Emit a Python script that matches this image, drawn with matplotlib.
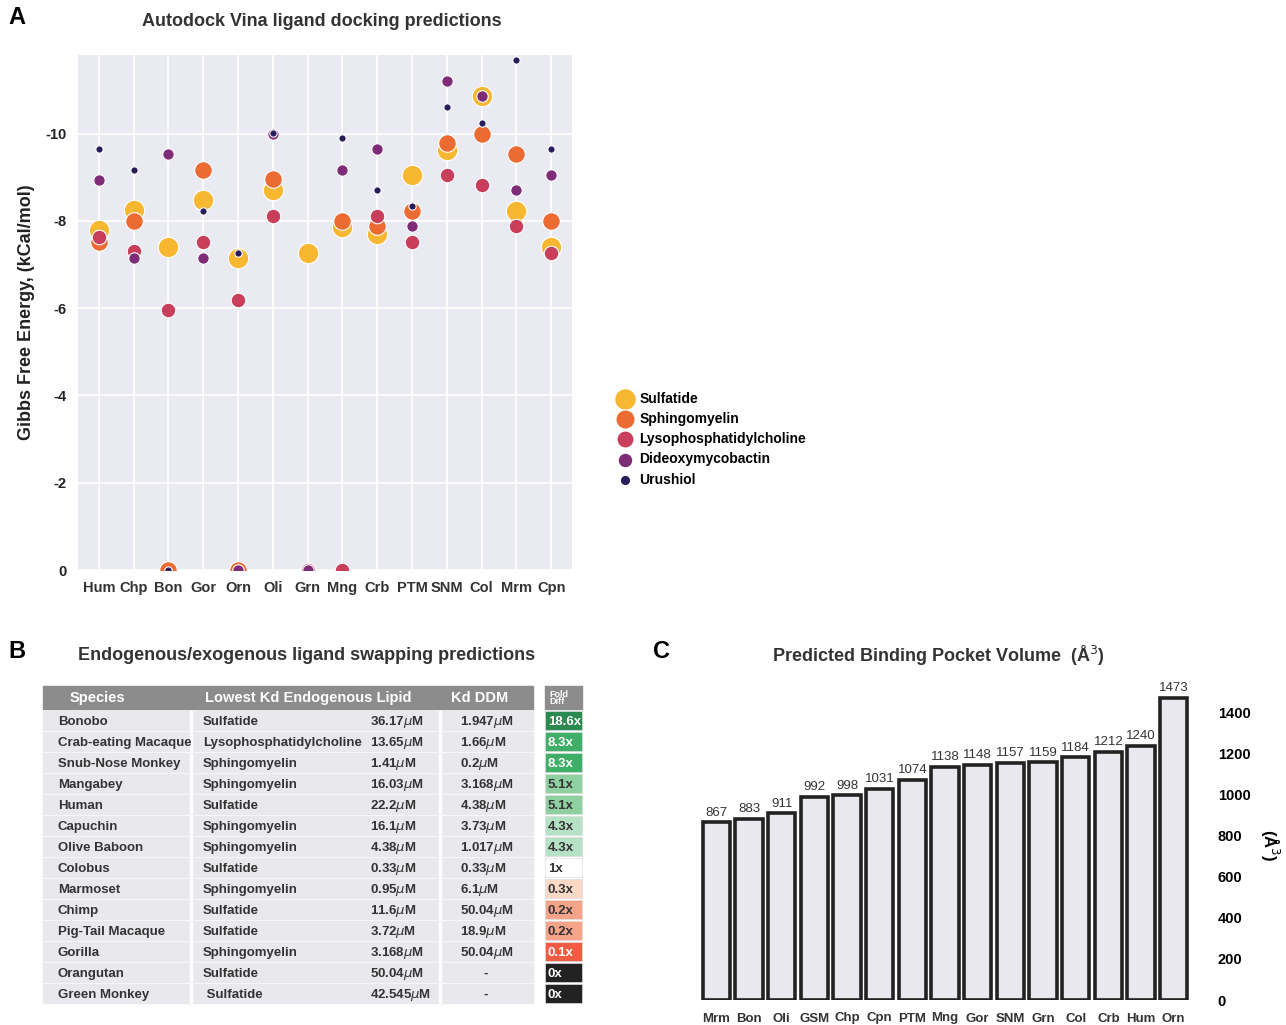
import numpy as np
import matplotlib
matplotlib.use("Agg")
import matplotlib.pyplot as plt
from matplotlib.patches import Rectangle

plt.rcParams["font.family"] = ["Liberation Sans", "DejaVu Sans"]
plt.rcParams["axes.unicode_minus"] = False

nan = np.nan

# panel A - docking energies
species_a = ["Hum", "Chp", "Bon", "Gor", "Orn", "Oli", "Grn", "Mng", "Crb", "PTM", "SNM", "Col", "Mrm", "Cpn"]
sulfatide = [-7.78, -8.24, -7.39, -8.48, -7.14, -8.71, -7.27, -7.85, -7.71, -9.05, -9.63, -10.85, -8.22, -7.41]
sphingomyelin = [-7.51, -7.99, 0, -9.17, 0, -8.96, nan, -7.99, -7.88, -8.22, -9.79, -10.0, -9.54, -7.99]
lysopc = [-7.62, -7.30, -5.96, -7.51, -6.19, -8.11, 0, 0, -8.11, -7.51, -9.05, -8.82, -7.88, -7.27]
dideoxy = [-8.94, -7.16, -9.54, -7.14, 0, -10.0, 0, -9.17, -9.65, -7.88, -11.20, -10.85, -8.71, -9.05]
urushiol = [-9.65, -9.17, 0, -8.22, -7.27, -10.02, nan, -9.89, -8.71, -8.34, -10.60, -10.25, -11.69, -9.65]
ligands = ["Sulfatide", "Sphingomyelin", "Lysophosphatidylcholine", "Dideoxymycobactin", "Urushiol"]

# panel B - ligand swapping table
tb_species = ["Bonobo", "Crab-eating Macaque", "Snub-Nose Monkey", "Mangabey", "Human", "Capuchin",
              "Olive Baboon", "Colobus", "Marmoset", "Chimp", "Pig-Tail Macaque", "Gorilla",
              "Orangutan", "Green Monkey"]
tb_lipid = ["Sulfatide", "Lysophosphatidylcholine", "Sphingomyelin", "Sphingomyelin", "Sulfatide",
            "Sphingomyelin", "Sphingomyelin", "Sulfatide", "Sphingomyelin", "Sulfatide", "Sulfatide",
            "Sphingomyelin", "Sulfatide", " Sulfatide"]
tb_kd_lipid = ["36.17", "13.65", "1.41", "16.03", "22.2", "16.1", "4.38", "0.33", "0.95", "11.6",
               "3.72", "3.168", "50.04", "42.545"]
tb_kd_ddm = ["1.947", "1.66", "0.2", "3.168", "4.38", "3.73", "1.017", "0.33", "6.1", "50.04",
             "18.9", "50.04", None, None]
tb_fold = ["18.6x", "8.3x", "8.3x", "5.1x", "5.1x", "4.3x", "4.3x", "1x", "0.3x", "0.2x", "0.2x",
           "0.1x", "0x", "0x"]

# panel C - pocket volume
species_c = ["Mrm", "Bon", "Oli", "GSM", "Chp", "Cpn", "PTM", "Mng", "Gor", "SNM", "Grn", "Col", "Crb", "Hum", "Orn"]
volume = [867, 883, 911, 992, 998, 1031, 1074, 1138, 1148, 1157, 1159, 1184, 1212, 1240, 1473]

lig_colors = ["#F7B731", "#EC6B33", "#C93F5B", "#7E2B78", "#2B1D5C"]
lig_sizes = [215, 160, 110, 68, 28]
legend_sizes = [240, 190, 150, 110, 55]
fold_colors = ["#2A8A4F", "#3FAE66", "#3FAE66", "#8FD0A0", "#8FD0A0", "#B5E2C5", "#B5E2C5", "#FFFFFF",
               "#FCD8C6", "#F6A489", "#F6A489", "#EE5C42", "#222222", "#222222"]
fold_text = ["white", "white", "white", "#333333", "#333333", "#333333", "#333333", "#333333",
             "#333333", "#333333", "#333333", "white", "white", "white"]

W, H = 1286, 1025
fig = plt.figure(figsize=(W / 100, H / 100), dpi=100)


def fx(px):
    return px / W


def fy(py):
    return 1 - py / H


# ---- A ----
axA = fig.add_axes([fx(78), fy(570), fx(572) - fx(78), fy(55) - fy(570)])
axA.set_facecolor("#EAEAF2")
x = np.arange(len(species_a))
series = [sulfatide, sphingomyelin, lysopc, dideoxy, urushiol]
for vals, lab, c, s in zip(series, ligands, lig_colors, lig_sizes):
    axA.scatter(x, vals, s=s, color=c, edgecolor="white", linewidth=0.8, label=lab, zorder=3)
axA.set_xlim(-0.6, len(species_a) - 0.4)
axA.set_ylim(0, -11.8)
axA.set_xticks(x)
axA.set_xticklabels(species_a, fontsize=10.5, fontweight="bold", color="#333333")
axA.set_yticks([-10, -8, -6, -4, -2, 0])
axA.tick_params(axis="y", labelsize=10.5, labelcolor="#222222", pad=8)
axA.tick_params(axis="x", pad=8)
for t in axA.get_yticklabels():
    t.set_fontweight("bold")
axA.tick_params(length=0)
axA.grid(True, color="white", linewidth=1.2)
axA.set_axisbelow(True)
for sp in axA.spines.values():
    sp.set_visible(False)
axA.set_ylabel("Gibbs Free Energy, (kCal/mol)", fontsize=13, fontweight="bold", color="#222222", labelpad=8)
fig.text(fx(322), fy(22), "Autodock Vina ligand docking predictions", ha="center", va="center",
         fontsize=13, fontweight="bold", color="#333333")
fig.text(fx(17), fy(18), "A", ha="center", va="center", fontsize=17, fontweight="bold")

leg = fig.legend(*axA.get_legend_handles_labels(), loc="upper left", bbox_to_anchor=(fx(606), fy(386)),
                 frameon=False, handletextpad=0.0, labelspacing=0.45, borderaxespad=0,
                 prop={"weight": "bold", "size": 10})
for h, s in zip(leg.legend_handles, legend_sizes):
    h.set_sizes([s])

# ---- B ----
axB = fig.add_axes([0, 0, 1, 1], zorder=-1)
axB.set_xlim(0, W)
axB.set_ylim(H, 0)
axB.axis("off")
fig.text(fx(17), fy(652), "B", ha="center", va="center", fontsize=17, fontweight="bold")
fig.text(fx(307), fy(655), "Endogenous/exogenous ligand swapping predictions", ha="center", va="center",
         fontsize=13, fontweight="bold", color="#333333")

axB.add_patch(Rectangle((43, 686), 490, 23, color="#8C8C8C"))
axB.add_patch(Rectangle((545, 686), 37, 23, color="#8C8C8C"))
hdr = dict(color="white", fontsize=10.5, fontweight="bold", va="center", ha="center")
axB.text(97, 698, "Species", **hdr)
axB.text(308, 698, "Lowest Kd Endogenous Lipid", **hdr)
axB.text(480, 698, "Kd DDM", **hdr)
axB.text(549, 698, "Fold\nDiff", color="white", fontsize=6.5, fontweight="bold", va="center",
         ha="left", linespacing=0.8)

cell = dict(color="#333333", fontsize=9.5, fontweight="bold", va="baseline", ha="left")
for i in range(len(tb_species)):
    y0 = 711 + i * 21
    yb = y0 + 14
    axB.add_patch(Rectangle((43, y0), 490, 19, color="#E9E9ED"))
    axB.add_patch(Rectangle((190, y0), 2, 19, color="white"))
    axB.add_patch(Rectangle((439, y0), 2, 19, color="white"))
    axB.add_patch(Rectangle((545, y0), 37, 19, facecolor=fold_colors[i], edgecolor="#DDDDDD", linewidth=0.5))
    axB.text(58, yb, tb_species[i], **cell)
    axB.text(203, yb, tb_lipid[i], **cell)
    axB.text(370, yb, tb_kd_lipid[i] + r"$\mu$M", **cell)
    if tb_kd_ddm[i] is None:
        axB.text(483, yb, "-", **cell)
    else:
        axB.text(460, yb, tb_kd_ddm[i] + r"$\mu$M", **cell)
    axB.text(548, yb, tb_fold[i], color=fold_text[i], fontsize=9.5, fontweight="bold",
             va="baseline", ha="left")

# ---- C ----
axC = fig.add_axes([fx(700), fy(1000), fx(1190) - fx(700), fy(690) - fy(1000)])
xc = np.arange(len(species_c))
bars = axC.bar(xc, volume, width=0.83, color="#E8E8EE", edgecolor="#222222", linewidth=2.6)
for b, v in zip(bars, volume):
    axC.text(b.get_x() + b.get_width() / 2, v + 18, str(v), ha="center", va="bottom",
             fontsize=9.5, color="#333333")
axC.set_xlim(-0.5, len(species_c) - 0.5)
axC.set_ylim(0, 1512)
axC.set_xticks(xc)
axC.set_xticklabels(species_c, fontsize=9.5, fontweight="bold", color="#333333")
axC.yaxis.tick_right()
axC.set_yticks(range(0, 1401, 200))
for t in axC.get_yticklabels():
    t.set_fontweight("bold")
axC.tick_params(axis="y", labelsize=10.5, pad=20, length=0)
axC.tick_params(axis="x", length=0, pad=9)
for sp in axC.spines.values():
    sp.set_visible(False)
axC.yaxis.set_label_position("right")
axC.set_ylabel("(Å$^3$)", rotation=-90, fontsize=12, fontweight="bold", labelpad=22)
fig.text(fx(938), fy(656), "Predicted Binding Pocket Volume  (Å$^3$)", ha="center", va="center",
         fontsize=13, fontweight="bold", color="#333333")
fig.text(fx(662), fy(652), "C", ha="center", va="center", fontsize=17, fontweight="bold")

fig.savefig("out.png", dpi=100)
